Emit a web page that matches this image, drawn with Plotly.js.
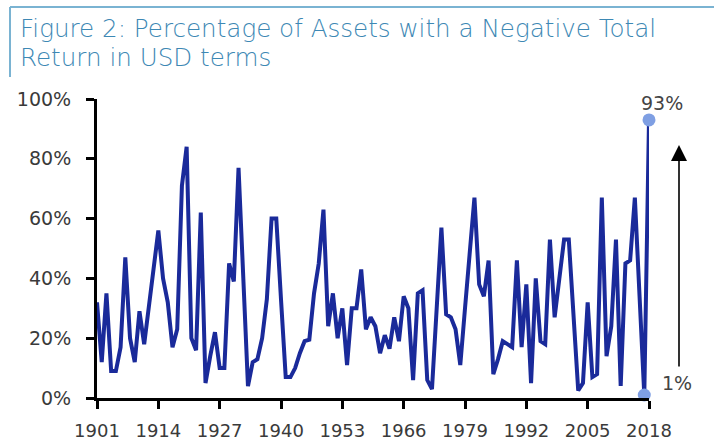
<!DOCTYPE html>
<html>
<head>
<meta charset="utf-8">
<script src="https://cdn.plot.ly/plotly-3.0.1.min.js"></script>
<style>html,body{margin:0;padding:0;background:#fff;}#chart{width:714px;height:442px;}</style>
</head>
<body>
<div id="chart"></div>
<script>
var years = [1901,1902,1903,1904,1905,1906,1907,1908,1909,1910,
1911,1912,1913,1914,1915,1916,1917,1918,1919,1920,
1921,1922,1923,1924,1925,1926,1927,1928,1929,1930,
1931,1932,1933,1934,1935,1936,1937,1938,1939,1940,
1941,1942,1943,1944,1945,1946,1947,1948,1949,1950,
1951,1952,1953,1954,1955,1956,1957,1958,1959,1960,
1961,1962,1963,1964,1965,1966,1967,1968,1969,1970,
1971,1972,1973,1974,1975,1976,1977,1978,1979,1980,
1981,1982,1983,1984,1985,1986,1987,1988,1989,1990,
1991,1992,1993,1994,1995,1996,1997,1998,1999,2000,
2001,2002,2003,2004,2005,2006,2007,2008,2009,2010,
2011,2012,2013,2014,2015,2016,2017,2018];

var pctNegative = [32,12,35,9,9,17,47,20,12,29,
18,30,42,56,40,32,17,23,71,84,
20,16,62,5,14,22,10,10,45,39,
77,40,4,12,13,20,33,60,60,33,
7,7,10,15,19,19.5,35,45,63,24,
35,20,30,11,30,30,43,23,27,24,
15,21,16.5,27,19,34,30,6,35,36,
6,3,30,57,28,27,23,11,30,48,
67,38,34,46,8,13,19,18,17,46,
17,38,5,40,19,18,53,27,40,53,
53,28,2.5,5,32,7,8,67,14,24,
53,4,45,46,67,34,1,93];

var highlightYears = [2017, 2018];
var xTickVals = [1901,1914,1927,1940,1953,1966,1979,1992,2005,2018];
var yTickVals = [0,20,40,60,80,100];
var yTickText = ['0%','20%','40%','60%','80%','100%'];
var titleLine1 = 'Figure 2: Percentage of Assets with a Negative Total';
var titleLine2 = 'Return in USD terms';

var hlY = highlightYears.map(function(y){ return pctNegative[years.indexOf(y)]; });

var traces = [
  {x: years, y: pctNegative, type: 'scatter', mode: 'lines',
   line: {color: '#1a2a9a', width: 4}, cliponaxis: false, hoverinfo: 'skip'},
  {x: highlightYears, y: hlY, type: 'scatter', mode: 'markers',
   marker: {color: '#7f9fe3', size: 13}, cliponaxis: false, hoverinfo: 'skip'}
];

var L = 97, R = 649, T = 99, B = 398;
function px(x){ return (x - L) / (R - L); }
function py(y){ return (B - y) / (B - T); }
var FONT = 'DejaVu Sans, sans-serif';
var titleFont = {family: FONT, size: 24.6, weight: 300, color: '#3d88b4'};

var layout = {
  width: 714, height: 442,
  margin: {l: L, r: 714 - R, t: T, b: 442 - B, pad: 0},
  paper_bgcolor: '#fff', plot_bgcolor: '#fff',
  showlegend: false,
  font: {family: FONT, color: '#333'},
  xaxis: {
    range: [1901, 2018], tickmode: 'array', tickvals: xTickVals,
    ticks: 'outside', ticklen: 8, tickwidth: 3, tickcolor: '#000',
    showline: true, linewidth: 3, linecolor: '#000',
    showgrid: false, zeroline: false, ticklabelstandoff: 6,
    tickfont: {family: FONT, size: 18, color: '#3a3a3a'}
  },
  yaxis: {
    range: [0, 100], tickmode: 'array', tickvals: yTickVals, ticktext: yTickText,
    ticks: 'outside', ticklen: 8, tickwidth: 3, tickcolor: '#000',
    showline: true, linewidth: 3, linecolor: '#000',
    showgrid: false, zeroline: false, ticklabelstandoff: 11,
    tickfont: {family: FONT, size: 19, color: '#3a3a3a'}
  },
  shapes: [
    {type: 'line', xref: 'paper', yref: 'paper', x0: px(10), x1: px(714), y0: py(7), y1: py(7),
     line: {color: '#7ab3d2', width: 2}},
    {type: 'line', xref: 'paper', yref: 'paper', x0: px(10), x1: px(10), y0: py(7), y1: py(77),
     line: {color: '#7ab3d2', width: 2}}
  ],
  annotations: [
    {xref: 'paper', yref: 'paper', x: px(18), y: py(28.5), text: titleLine1, showarrow: false,
     xanchor: 'left', yanchor: 'middle', align: 'left', font: titleFont},
    {xref: 'paper', yref: 'paper', x: px(18), y: py(57.5), text: titleLine2, showarrow: false,
     xanchor: 'left', yanchor: 'middle', align: 'left', font: titleFont},
    {xref: 'paper', yref: 'paper', x: px(662), y: py(103), text: '93%', showarrow: false,
     xanchor: 'center', yanchor: 'middle', font: {family: FONT, size: 19, color: '#444'}},
    {xref: 'paper', yref: 'paper', x: px(677), y: py(383), text: '1%', showarrow: false,
     xanchor: 'center', yanchor: 'middle', font: {family: FONT, size: 19, color: '#444'}},
    {xref: 'paper', yref: 'paper', x: px(679), y: py(145), text: '', showarrow: true,
     ax: 0, ay: 223, arrowhead: 2, arrowsize: 2, arrowwidth: 1.6, arrowcolor: '#000'}
  ]
};

Plotly.newPlot('chart', traces, layout, {staticPlot: true, displayModeBar: false});
</script>
</body>
</html>
